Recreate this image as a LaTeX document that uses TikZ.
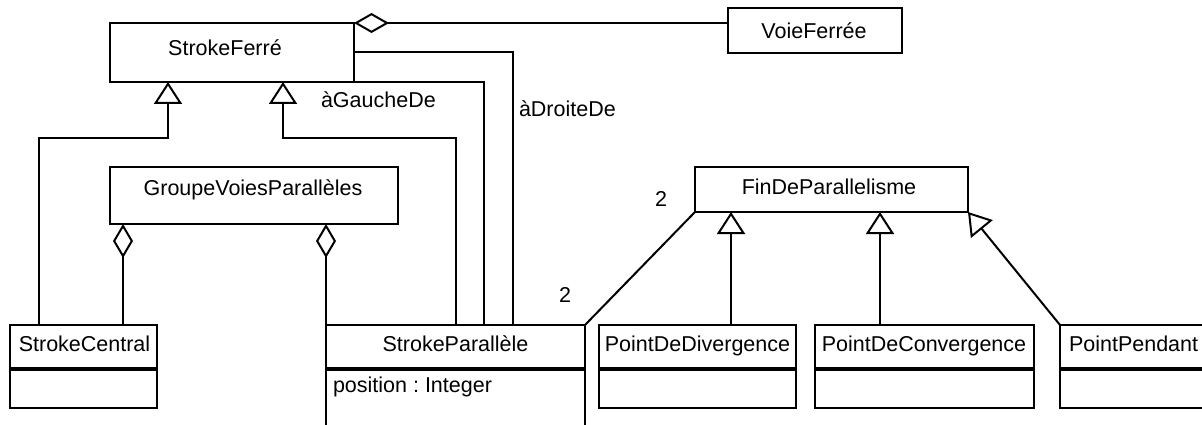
\documentclass[tikz,border=0pt]{standalone}
\usepackage{fontspec}
\setmainfont{Liberation Sans}
\usetikzlibrary{arrows.meta}
\begin{document}
\begin{tikzpicture}[x=1pt,y=-1pt,
  box/.style={draw, line width=2pt, inner sep=0pt, outer sep=0pt, anchor=north west},
  txt/.style={inner sep=0pt, outer sep=0pt, anchor=base, font=\fontsize{21.5pt}{24pt}\selectfont\frenchspacing},
  conn/.style={line width=2pt},
  sepline/.style={line width=4pt},
  aggr/.style={conn, {Diamond[open, fill=white, length=35pt, width=20pt]}-},
  aggrv/.style={conn, {Diamond[open, fill=white, length=34pt, width=20pt]}-},
  gen/.style={conn, -{Triangle[open, fill=white, length=22pt, width=28pt]}}
]
\useasboundingbox (0,0) rectangle (1202,425);
\clip (0,0) rectangle (1202,425);
\fill[white] (0,0) rectangle (1202,425);

% class boxes
\node[box, minimum width=244pt, minimum height=59pt] (sf) at (110,23) {};
\node[box, minimum width=174pt, minimum height=45pt] (vf) at (728,8) {};
\node[box, minimum width=288pt, minimum height=57pt] (gv) at (110,167) {};
\node[box, minimum width=273pt, minimum height=45pt] (fp) at (695,167) {};

\node[box, minimum width=147pt, minimum height=44pt] (sc) at (10,325) {};
\node[box, minimum width=147pt, minimum height=39pt] (sca) at (10,369) {};
\node[box, minimum width=259pt, minimum height=44pt] (sp) at (326,325) {};
\node[box, minimum width=259pt, minimum height=75pt] (spa) at (326,369) {};
\node[box, minimum width=197pt, minimum height=44pt] (pd) at (599,325) {};
\node[box, minimum width=197pt, minimum height=38.5pt] (pda) at (599,369) {};
\node[box, minimum width=219pt, minimum height=44pt] (pc) at (815,325) {};
\node[box, minimum width=219pt, minimum height=38.5pt] (pca) at (815,369) {};
\node[box, minimum width=170pt, minimum height=44pt] (pp) at (1060,325) {};
\node[box, minimum width=170pt, minimum height=38.5pt] (ppa) at (1060,369) {};

% compartment separators
\draw[sepline] (sc.south west) -- (sc.south east);
\draw[sepline] (sp.south west) -- (sp.south east);
\draw[sepline] (pd.south west) -- (pd.south east);
\draw[sepline] (pc.south west) -- (pc.south east);
\draw[sepline] (pp.south west) -- (pp.south east);

% texts
\node[txt] (sft) at (225,55.5) {StrokeFerré};
\node[txt] (vft) at (814,38.3) {VoieFerrée};
\node[txt] (gvt) at (253,195) {GroupeVoiesParallèles};
\node[txt] (fpt) at (829,194.5) {FinDeParallelisme};
\node[txt] (sct) at (84.5,351) {StrokeCentral};
\node[txt] (spt) at (455.5,351) {StrokeParallèle};
\node[txt, anchor=base west] (spat) at (333,392.5) {position : Integer};
\node[txt] (pdt) at (697.5,351) {PointDeDivergence};
\node[txt] (pct) at (924,351) {PointDeConvergence};
\node[txt, anchor=base west] (ppt) at (1069,351) {PointPendant};
\node[txt, anchor=base west] (lg) at (321,108) {àGaucheDe};
\node[txt, anchor=base west] (ld) at (519,117) {àDroiteDe};
\node[txt] (m1) at (565,302) {2};
\node[txt] (m2) at (661,206.5) {2};

% connectors
\draw[aggr] (sf.north east) -- (sf.north east -| vf.west);
\draw[conn] (sf.east) -| ([xshift=187pt]sp.north west);
\draw[conn] (sf.south east) -| ([xshift=158pt]sp.north west);
\draw[gen] ([xshift=130pt]sp.north west) -- ++(0,-187) -| ([xshift=173pt]sf.south west);
\draw[gen] ([xshift=29pt]sc.north west) -- ++(0,-187) -| ([xshift=58pt]sf.south west);
\draw[aggrv] ([xshift=13pt]gv.south west) -- ([xshift=113pt]sc.north west);
\draw[aggrv] ([xshift=216pt]gv.south west) -- (sp.north west);
\draw[conn] (sp.north east) -- (fp.south west);
\draw[gen] ([xshift=132pt]pd.north west) -- ([xshift=36pt]fp.south west);
\draw[gen] ([xshift=65pt]pc.north west) -- ([xshift=185pt]fp.south west);
\draw[gen] (pp.north west) -- (fp.south east);
\end{tikzpicture}
\end{document}
